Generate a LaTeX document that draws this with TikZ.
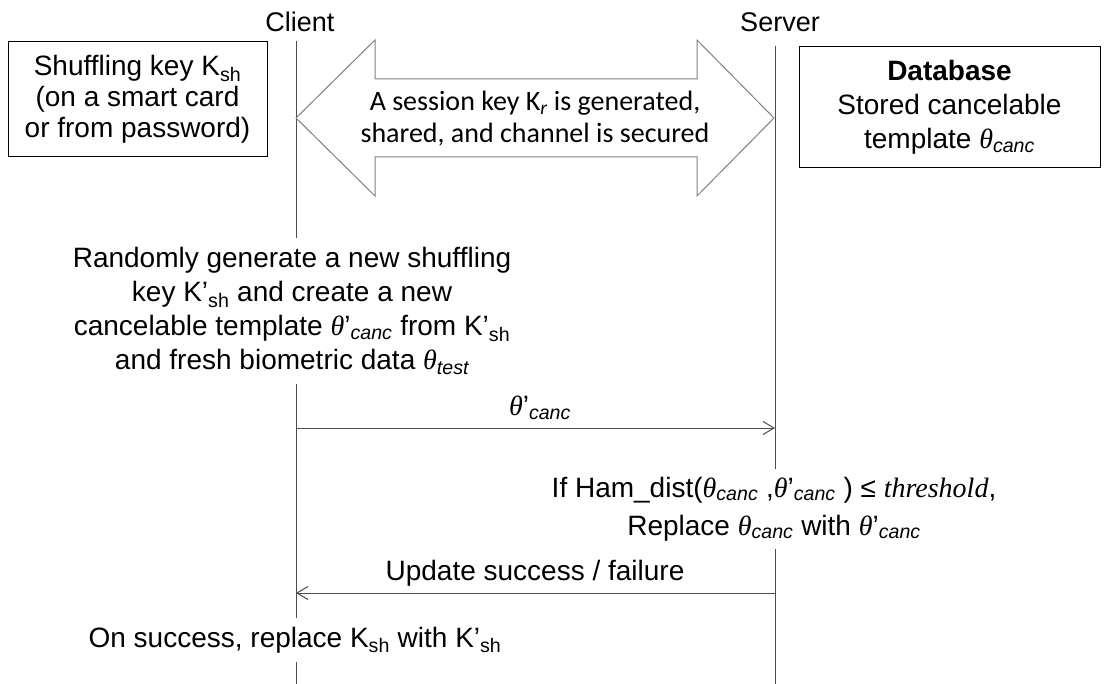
\documentclass[tikz,border=0pt]{standalone}
\usepackage{fontspec}
\setmainfont{Liberation Sans}
\newfontfamily\calib{Carlito}
\newfontfamily\tms{Liberation Serif}
\usetikzlibrary{arrows.meta}
\newcommand\thet{{\tms\itshape θ}}
\newcommand\csub[1]{\textsubscript{\itshape #1}}
\newcommand\thc{\thet\csub{canc}}
\newcommand\thpc{\thet’\csub{canc}}
\begin{document}
\begin{tikzpicture}[x=1pt,y=-1pt,
  lifeline/.style={draw=black!70, line width=1pt},
  msg/.style={draw=black!70, line width=1pt, -{Straight Barb[length=11pt,width=13pt,line width=1pt]}},
  role/.style={font=\fontsize{27}{30}\selectfont},
  txt/.style={font=\fontsize{28}{34}\selectfont, align=center},
  masked/.style={txt, fill=white, inner xsep=2pt, inner ysep=10pt},
  box/.style={draw=black, line width=1pt, align=center, font=\fontsize{28}{31}\selectfont, inner sep=0pt},
  bigarrow/.style={draw=black!50, line width=1pt, fill=white}]
\useasboundingbox (0,0) rectangle (1105,684);
% lifelines
\coordinate (cTop) at (296,41);
\coordinate (cBot) at (296,684);
\coordinate (sTop) at (775,46);
\coordinate (sBot) at (775,684);
\draw[lifeline] (cTop) -- (cBot);
\draw[lifeline] (sTop) -- (sBot);
% roles
\node[role] (client) at (300,22) {Client};
\node[role] (server) at (780,22) {Server};
% boxes
\node[box, minimum width=259pt, minimum height=115pt] (kbox) at (137.5,99.5)
  {Shuffling key K\textsubscript{sh}\\(on a smart card\\or from password)};
\node[box, minimum width=301pt, minimum height=121pt, font=\fontsize{28}{34}\selectfont] (dbox) at (949.5,107.5)
  {\textbf{Database}\\Stored cancelable\\template \thc};
% session key double arrow
\draw[bigarrow] (296,118) -- (375,40) -- (375,79) -- (697,79) -- (697,40) -- (774,118)
  -- (697,196) -- (697,157) -- (375,157) -- (375,196) -- cycle;
\node[font=\calib\fontsize{28}{32}\selectfont, align=center] (keyx) at (535,119)
  {A session key K\textsubscript{\itshape r} is generated,\\shared, and channel is secured};
% generation text
\node[masked] (gen) at (292,311)
  {Randomly generate a new shuffling\\key K’\textsubscript{sh} and create a new\\cancelable template \thpc{} from K’\textsubscript{sh}\\and fresh biometric data \thet\csub{test}};
% message 1
\coordinate (c1) at (296,428);
\coordinate (s1) at (775,428);
\draw[msg] (c1) -- (s1);
\node[txt] (lbl1) at (540,408) {\thpc};
% server check
\node[masked, inner ysep=8pt, font=\fontsize{28}{38}\selectfont] (ham) at (774,509)
  {If Ham\_dist(\thc{} ,\thpc{} ) ≤ {\tms\itshape threshold},\\Replace \thc{} with \thpc};
% message 2
\coordinate (s2) at (775,593);
\coordinate (c2) at (296,593);
\draw[msg] (s2) -- (c2);
\node[txt, anchor=base] (upd) at (535,580) {Update success / failure};
% final
\node[masked, inner ysep=9pt] (fin) at (295,640)
  {On success, replace K\textsubscript{sh} with K’\textsubscript{sh}};
\end{tikzpicture}
\end{document}
